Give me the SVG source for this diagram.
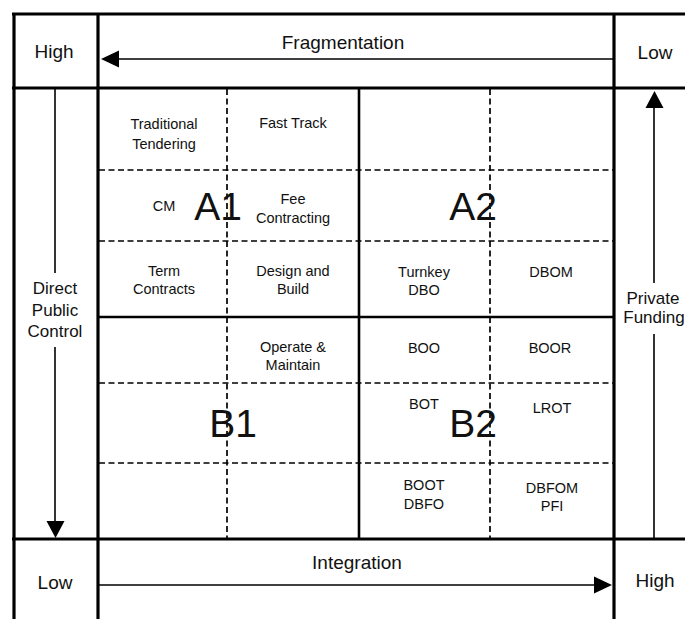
<svg xmlns="http://www.w3.org/2000/svg" width="685" height="619" viewBox="0 0 685 619">
<style>
  .thick { stroke: #000; stroke-width: 3.2; fill: none; }
  .mid { stroke: #000; stroke-width: 2.6; fill: none; }
  .thin { stroke: #000; stroke-width: 1.6; fill: none; }
  .dash { stroke: #000; stroke-width: 1.7; fill: none; stroke-dasharray: 6 3.5; }
  .head { fill: #000; stroke: none; }
  text { font-family: "Liberation Sans", Arial, Helvetica, sans-serif; fill: #111; text-anchor: middle; }
  .hdr { font-size: 19px; }
  .side { font-size: 17px; }
  .lbl { font-size: 14.5px; }
  .big { font-size: 39px; }
</style>
<rect x="0" y="0" width="685" height="619" fill="#fff"/>
<g id="frame">
  <line class="thick" x1="12" y1="14" x2="685" y2="14"/>
  <line class="thick" x1="12" y1="88" x2="685" y2="88"/>
  <line class="thick" x1="12" y1="539" x2="685" y2="539"/>
  <line class="thick" x1="14" y1="13" x2="14" y2="619"/>
  <line class="thick" x1="98" y1="13" x2="98" y2="619"/>
  <line class="thick" x1="614" y1="13" x2="614" y2="619"/>
  <line class="mid" x1="359" y1="88" x2="359" y2="539"/>
  <line class="mid" x1="98" y1="317" x2="614" y2="317"/>
  <line class="dash" x1="227" y1="89" x2="227" y2="538"/>
  <line class="dash" x1="490" y1="89" x2="490" y2="538"/>
  <line class="dash" x1="99" y1="170" x2="613" y2="170"/>
  <line class="dash" x1="99" y1="241" x2="613" y2="241"/>
  <line class="dash" x1="99" y1="383" x2="613" y2="383"/>
  <line class="dash" x1="99" y1="463" x2="613" y2="463"/>
</g>
<g id="connectors">
  <line class="thin" x1="118" y1="59" x2="614" y2="59"/>
  <polygon class="head" points="101,59 119,50.5 119,67.5"/>
  <line class="thin" x1="98" y1="585" x2="595" y2="585"/>
  <polygon class="head" points="612,585 594,576.5 594,593.5"/>
  <line class="thin" x1="55" y1="88" x2="55" y2="273"/>
  <line class="thin" x1="55" y1="347" x2="55" y2="522"/>
  <polygon class="head" points="55.5,538 46.5,521 64.5,521"/>
  <line class="thin" x1="654" y1="107" x2="654" y2="283"/>
  <line class="thin" x1="654" y1="334" x2="654" y2="538"/>
  <polygon class="head" points="654.5,91 645.5,108 663.5,108"/>
</g>
<g id="axis-labels">
  <text class="hdr" x="54" y="58">High</text>
  <text class="hdr" x="343" y="49">Fragmentation</text>
  <text class="hdr" x="655" y="59">Low</text>
  <text class="hdr" x="55" y="589">Low</text>
  <text class="hdr" x="357" y="569">Integration</text>
  <text class="hdr" x="655" y="587">High</text>
  <text class="side" x="55" y="294">Direct</text>
  <text class="side" x="55" y="316">Public</text>
  <text class="side" x="55" y="337">Control</text>
  <text class="side" x="653" y="304">Private</text>
  <text class="side" x="654" y="323">Funding</text>
</g>
<g id="quadrant-labels">
  <text class="big" x="218" y="220">A1</text>
  <text class="big" x="473" y="220">A2</text>
  <text class="big" x="233" y="437">B1</text>
  <text class="big" x="473" y="437">B2</text>
</g>
<g id="node-traditional"><text class="lbl" x="164" y="129">Traditional</text><text class="lbl" x="164" y="149">Tendering</text></g>
<g id="node-fasttrack"><text class="lbl" x="293" y="128">Fast Track</text></g>
<g id="node-cm"><text class="lbl" x="164" y="211">CM</text></g>
<g id="node-fee"><text class="lbl" x="293" y="204">Fee</text><text class="lbl" x="293" y="223">Contracting</text></g>
<g id="node-term"><text class="lbl" x="164" y="276">Term</text><text class="lbl" x="164" y="294">Contracts</text></g>
<g id="node-db"><text class="lbl" x="293" y="276">Design and</text><text class="lbl" x="293" y="294">Build</text></g>
<g id="node-turnkey"><text class="lbl" x="424" y="277">Turnkey</text><text class="lbl" x="424" y="295">DBO</text></g>
<g id="node-dbom"><text class="lbl" x="551" y="277">DBOM</text></g>
<g id="node-om"><text class="lbl" x="293" y="352">Operate &amp;</text><text class="lbl" x="293" y="370">Maintain</text></g>
<g id="node-boo"><text class="lbl" x="424" y="353">BOO</text></g>
<g id="node-boor"><text class="lbl" x="550" y="353">BOOR</text></g>
<g id="node-bot"><text class="lbl" x="424" y="409">BOT</text></g>
<g id="node-lrot"><text class="lbl" x="552" y="413">LROT</text></g>
<g id="node-boot"><text class="lbl" x="424" y="490">BOOT</text><text class="lbl" x="424" y="509">DBFO</text></g>
<g id="node-dbfom"><text class="lbl" x="552" y="493">DBFOM</text><text class="lbl" x="552" y="511">PFI</text></g>
</svg>
